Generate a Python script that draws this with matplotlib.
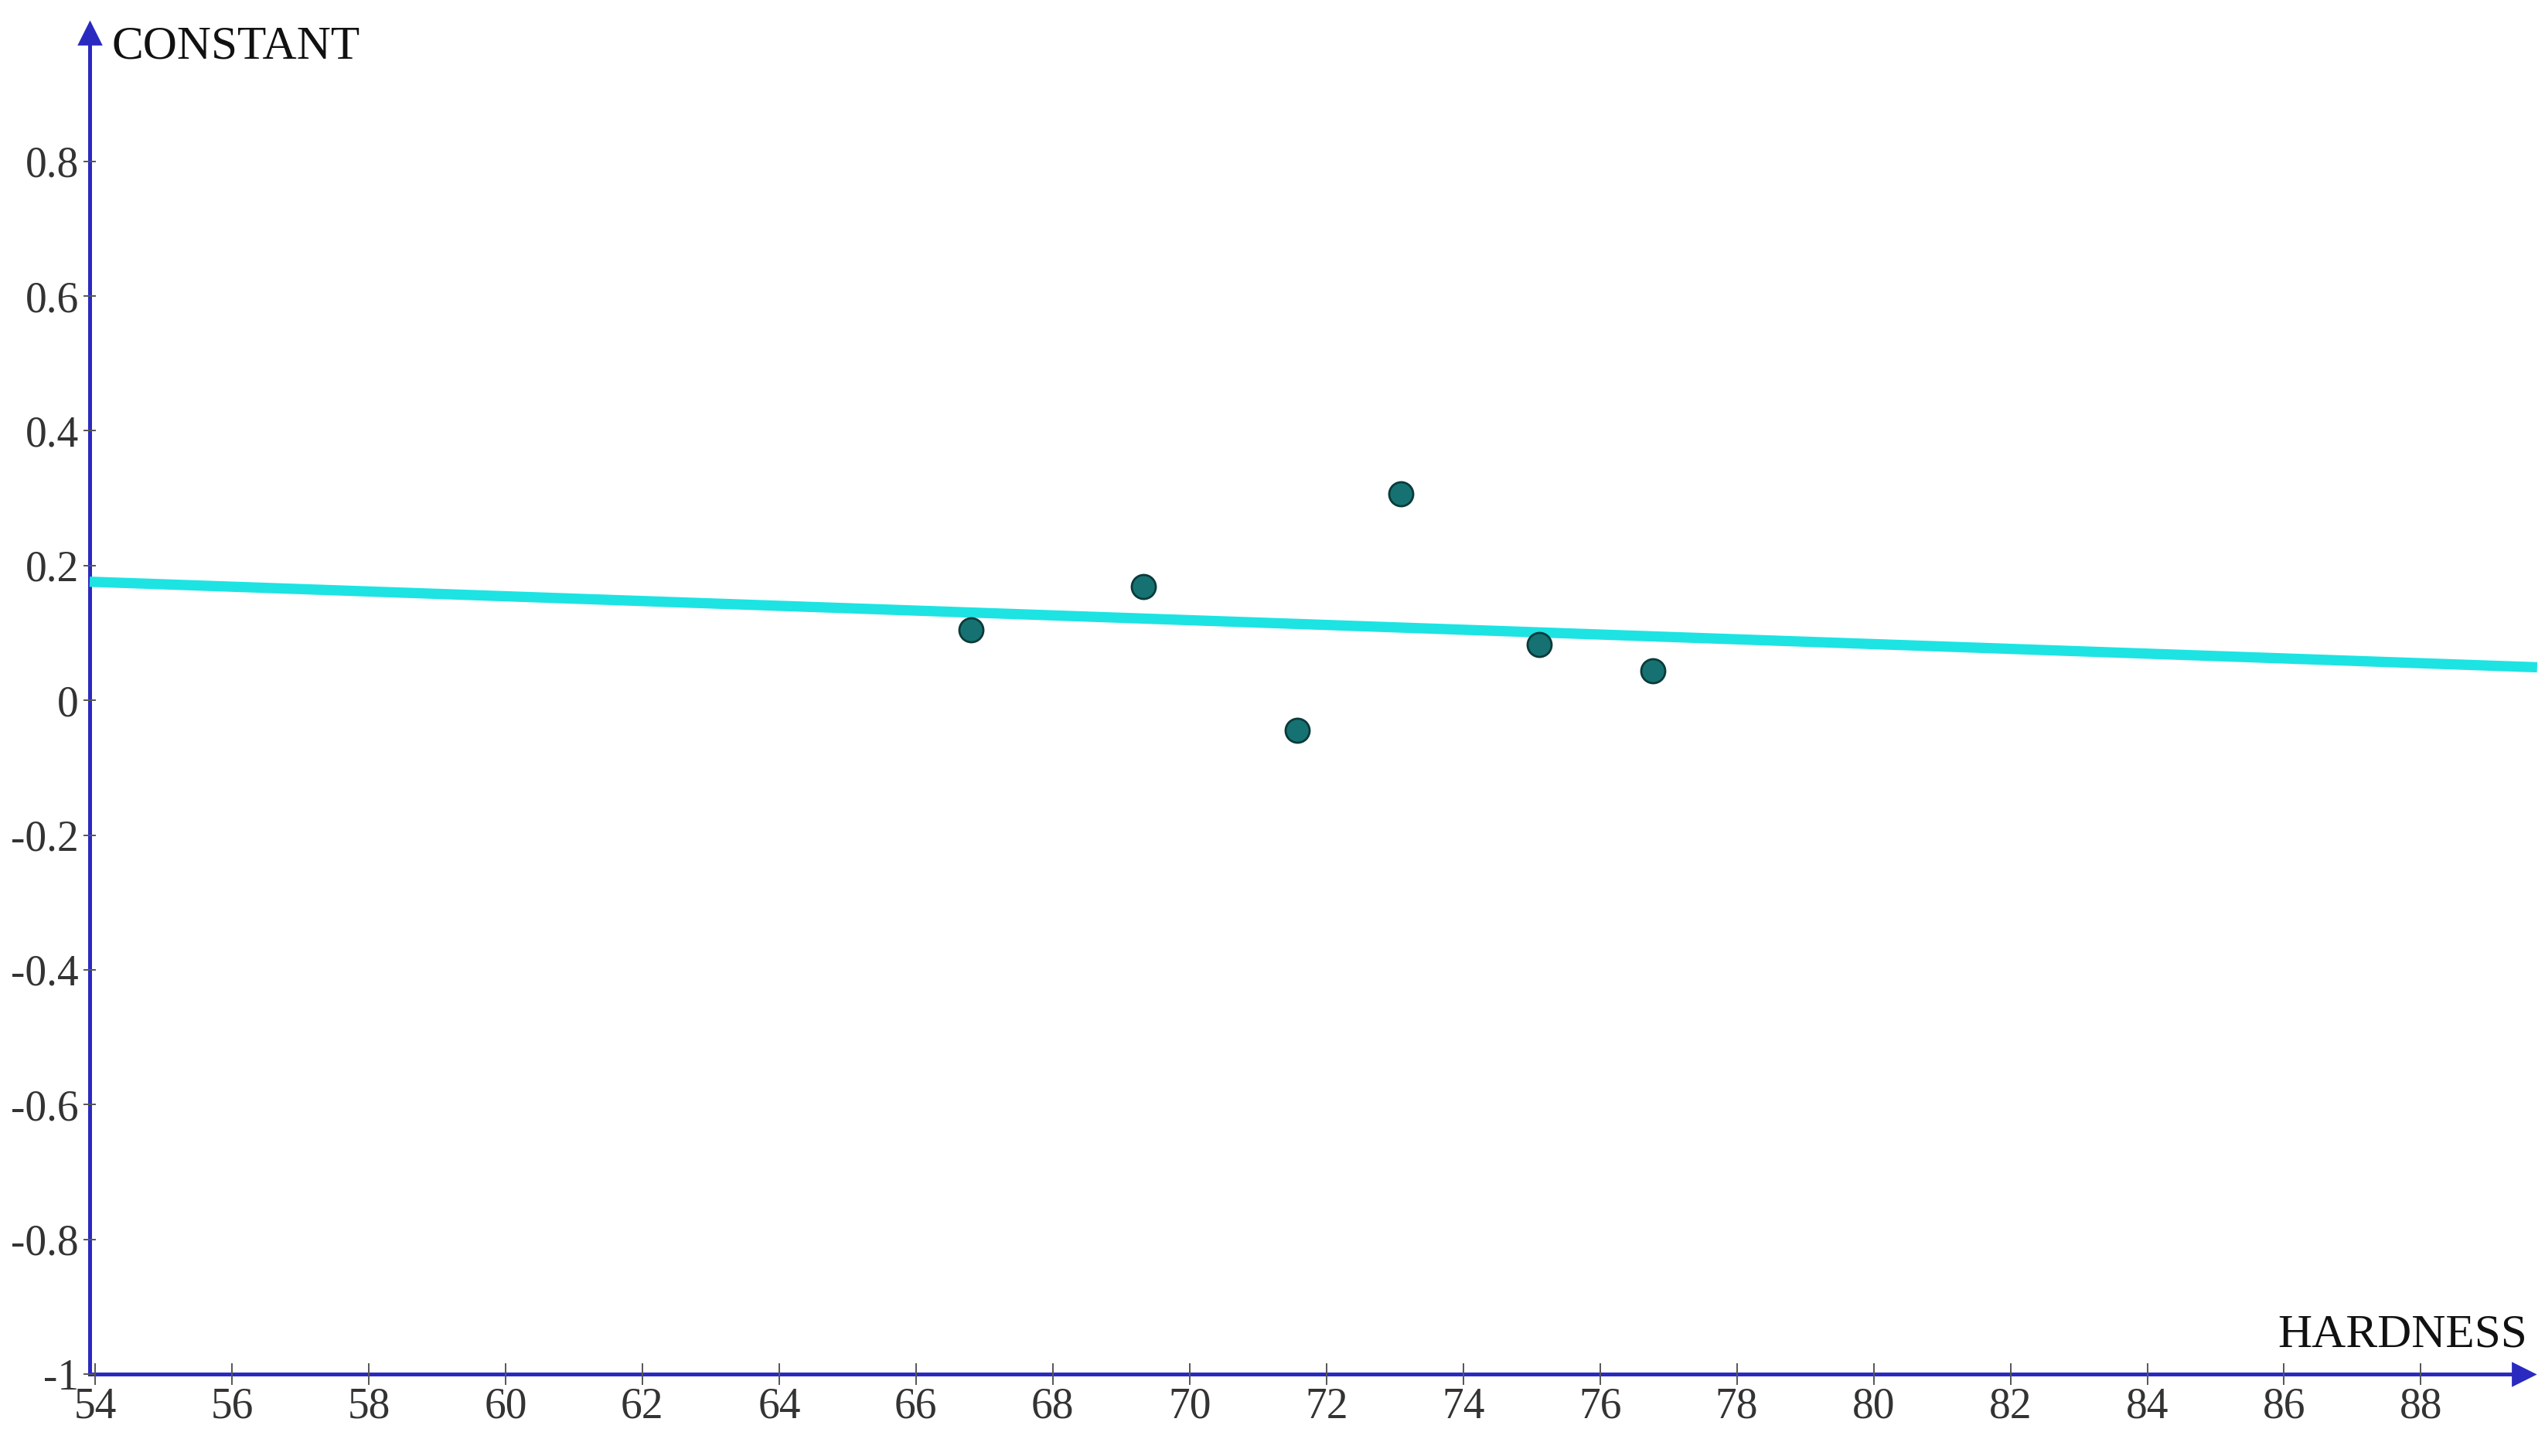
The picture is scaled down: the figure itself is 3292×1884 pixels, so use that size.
import numpy as np
import matplotlib.pyplot as plt

# measured points (HARDNESS vs CONSTANT)
hardness = [66.80, 69.32, 71.57, 73.09, 75.11, 76.77]
constant = [0.104, 0.169, -0.044, 0.306, 0.083, 0.044]

# trend line end points
trend_x = [53.92, 89.7]
trend_y = [0.176, 0.049]

xticks = list(range(54, 89, 2))
yticks = [-1, -0.8, -0.6, -0.4, -0.2, 0, 0.2, 0.4, 0.6, 0.8]
ytick_labels = ['-1', '-0.8', '-0.6', '-0.4', '-0.2', '0', '0.2', '0.4', '0.6', '0.8']

axis_col = '#2a2ac0'
tick_col = '#555555'
plt.rcParams['font.family'] = ['Liberation Serif', 'DejaVu Serif']

fig = plt.figure(figsize=(16.46, 9.42), dpi=200)
ax = fig.add_axes([0.03524, 0.05626, 0.9563, 0.9209])
ax.set_xlim(53.92, 89.5)
ax.set_ylim(-0.995, 0.99)

# axes drawn as arrows
for side in ['top', 'right']:
    ax.spines[side].set_visible(False)
for side in ['left', 'bottom']:
    ax.spines[side].set_color(axis_col)
    ax.spines[side].set_linewidth(1.8)
    ax.spines[side].set_zorder(1)
ax.plot(1, 0, '>', color=axis_col, ms=10, transform=ax.transAxes, clip_on=False)
ax.plot(0, 1, '^', color=axis_col, ms=10, transform=ax.transAxes, clip_on=False)

# trend line and points
ax.plot(trend_x, trend_y, color='#1ee3e3', lw=4.8, clip_on=False, zorder=2,
        solid_capstyle='butt')
ax.scatter(hardness, constant, s=125, c='#167272', edgecolors='#0b3a3a',
           linewidths=1.0, zorder=3)

ax.set_xticks(xticks)
ax.set_xticklabels([str(t) for t in xticks])
ax.set_yticks(yticks)
ax.set_yticklabels(ytick_labels)
ax.tick_params(axis='x', direction='inout', length=10, width=0.7, color=tick_col,
               labelsize=20, labelcolor='#333333', pad=1)
ax.tick_params(axis='y', direction='inout', length=6, width=0.7, color=tick_col,
               labelsize=20, labelcolor='#333333', pad=2)

# axis names
ax.text(0.0092, 0.99, 'CONSTANT', transform=ax.transAxes, fontsize=22,
        color='#111111', ha='left', va='center')
ax.text(1.0016, 0.0288, 'HARDNESS', transform=ax.transAxes, fontsize=22,
        color='#111111', ha='right', va='center')

plt.savefig('out.png', dpi=200, facecolor='white')
plt.close()
